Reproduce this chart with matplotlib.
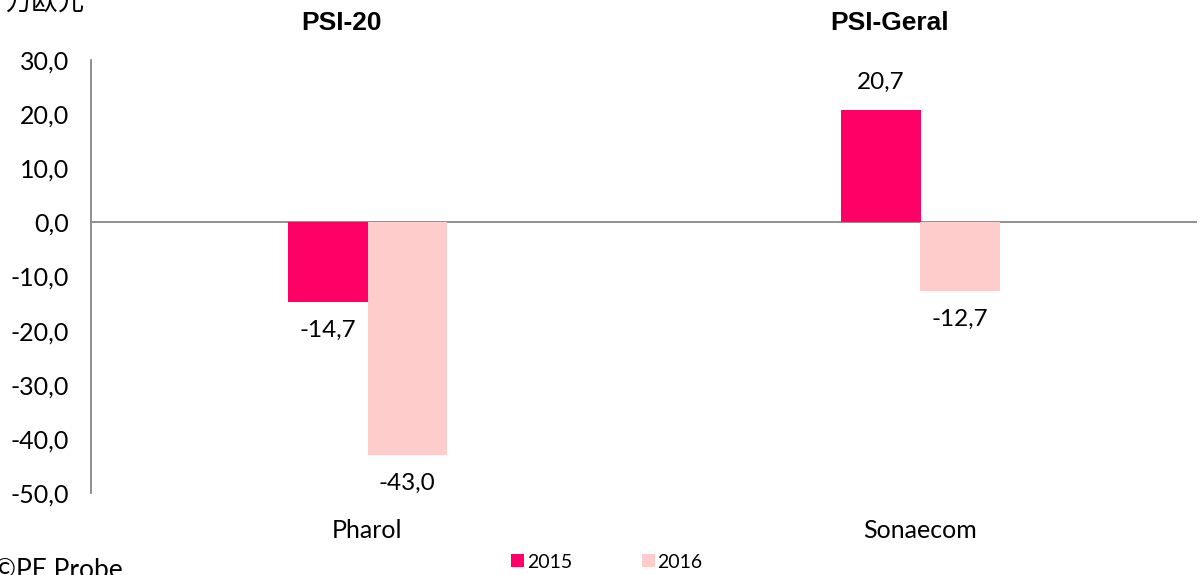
import matplotlib.pyplot as plt
import numpy as np

plt.rcParams['font.family'] = ['Lato', 'Noto Sans CJK SC', 'DejaVu Sans']

categories = ['Pharol', 'Sonaecom']
groups = ['PSI-20', 'PSI-Geral']
years = ['2015', '2016']
values_2015 = [-14.7, 20.7]
values_2016 = [-43.0, -12.7]
yticks = [30, 20, 10, 0, -10, -20, -30, -40, -50]

c2015 = '#FF0066'
c2016 = '#FFCCCC'


def fmt(v):
    return ('%.1f' % v).replace('.', ',')


fig = plt.figure(figsize=(12.02, 5.75), dpi=100)
ax = fig.add_axes([91 / 1202, 1 - 493 / 575, 1106 / 1202, 433 / 575])

x = np.arange(len(categories))
w = 0.143
b1 = ax.bar(x - w / 2, values_2015, w, color=c2015, label=years[0], zorder=2)
b2 = ax.bar(x + w / 2, values_2016, w, color=c2016, label=years[1], zorder=2)

for bars, vals in [(b1, values_2015), (b2, values_2016)]:
    for r, v in zip(bars, vals):
        off = 28 if v > 0 else -28
        ax.annotate(fmt(v), (r.get_x() + r.get_width() / 2, v),
                    xytext=(0, off), textcoords='offset pixels',
                    ha='center', va='center', fontsize=17.5)

ax.set_xlim(-0.5, 1.5)
ax.set_ylim(-50, 30)
ax.set_yticks(yticks)
ax.set_yticklabels([fmt(t) for t in yticks], fontsize=18)
ax.set_xticks(x)
ax.set_xticklabels(categories, fontsize=18)
ax.tick_params(axis='y', length=0, pad=16)
ax.tick_params(axis='x', length=0, pad=19)
for s in ['top', 'right', 'bottom']:
    ax.spines[s].set_visible(False)
ax.spines['left'].set_color('#888888')
ax.spines['left'].set_linewidth(1.3)
ax.axhline(0, color='#888888', linewidth=1.3, zorder=1)

for xi, g in zip([341, 890], groups):
    fig.text(xi / 1202, 1 - 23 / 575, g, ha='center', va='center',
             fontsize=19, fontweight='bold', family=['Liberation Sans'])

fig.text(5 / 1202, 1 - 2 / 575, '万欧元', ha='left', va='center',
         fontsize=19, family=['Noto Sans CJK SC'])
fig.text(-6 / 1202, 1 - 570 / 575, '©PE Probe', ha='left', va='center',
         fontsize=19)

fig.legend(handles=[b1, b2], labels=years, loc='center',
           bbox_to_anchor=(607 / 1202, 1 - 562 / 575), ncol=2, frameon=False,
           fontsize=14, handlelength=0.65, handleheight=0.65, handletextpad=0.15,
           columnspacing=3.6)

fig.savefig('out.png', dpi=100)
